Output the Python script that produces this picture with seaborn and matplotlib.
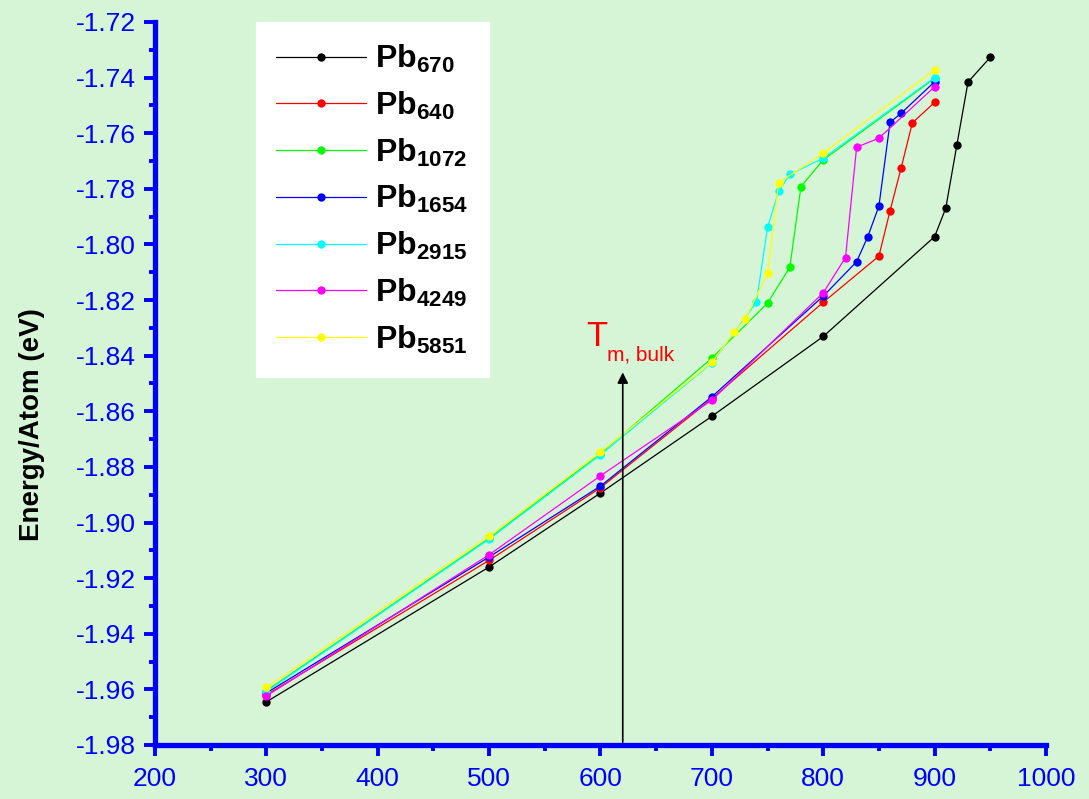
import numpy as np
import pandas as pd
import matplotlib
matplotlib.use("Agg")
import matplotlib.pyplot as plt
import seaborn as sns
from matplotlib.ticker import MultipleLocator, FormatStrFormatter

# datos: temperatura (K) y energia por atomo (eV)
clusters = ["670", "640", "1072", "1654", "2915", "4249", "5851"]
colores = ["#000000", "#ff0000", "#00ff00", "#0000ff", "#00ffff", "#ff00ff", "#ffff00"]

t_670 = [300, 500, 600, 700, 800, 900, 910, 920, 930, 950]
e_670 = [-1.9645, -1.9160, -1.8894, -1.8618, -1.8331, -1.7972, -1.7870, -1.7642, -1.7416, -1.7327]

t_640 = [300, 500, 600, 700, 800, 850, 860, 870, 880, 900]
e_640 = [-1.9620, -1.9136, -1.8875, -1.8555, -1.8208, -1.8042, -1.7879, -1.7724, -1.7563, -1.7489]

t_1072 = [300, 500, 600, 700, 750, 770, 780, 800, 900]
e_1072 = [-1.9605, -1.9057, -1.8752, -1.8409, -1.8211, -1.8082, -1.7792, -1.7696, -1.7403]

t_1654 = [300, 500, 600, 700, 800, 830, 840, 850, 860, 870, 900]
e_1654 = [-1.9613, -1.9124, -1.8869, -1.8548, -1.8186, -1.8062, -1.7972, -1.7862, -1.7561, -1.7528, -1.7415]

t_2915 = [300, 500, 600, 700, 740, 750, 760, 770, 800, 900]
e_2915 = [-1.9608, -1.9060, -1.8757, -1.8426, -1.8208, -1.7938, -1.7809, -1.7748, -1.7690, -1.7400]

t_4249 = [300, 500, 600, 700, 800, 820, 830, 850, 900]
e_4249 = [-1.9624, -1.9116, -1.8832, -1.8560, -1.8174, -1.8047, -1.7650, -1.7618, -1.7433]

t_5851 = [300, 500, 600, 700, 720, 730, 750, 760, 800, 900]
e_5851 = [-1.9593, -1.9049, -1.8748, -1.8424, -1.8316, -1.8268, -1.8104, -1.7778, -1.7672, -1.7373]

t_fusion = 620  # T de fusion bulk
y_flecha = [-1.98, -1.845]

series_t = [t_670, t_640, t_1072, t_1654, t_2915, t_4249, t_5851]
series_e = [e_670, e_640, e_1072, e_1654, e_2915, e_4249, e_5851]

filas = []
for nombre, ts, es in zip(clusters, series_t, series_e):
    for t, e in zip(ts, es):
        filas.append({"cluster": nombre, "T": t, "E": e})
df = pd.DataFrame(filas)

sns.set_style("ticks")
plt.rcParams["font.family"] = ["Liberation Sans", "DejaVu Sans"]
plt.rcParams["mathtext.fontset"] = "custom"
plt.rcParams["mathtext.rm"] = "Liberation Sans"
plt.rcParams["mathtext.bf"] = "Liberation Sans:bold"
plt.rcParams["axes.unicode_minus"] = False

fondo = "#d6f5d6"
azul = "#0000ff"

fig = plt.figure(figsize=(10.89, 7.99), dpi=100, facecolor=fondo)
ax = fig.add_axes([0.1423, 0.0676, 0.8182, 0.9049])
ax.set_facecolor(fondo)

sns.lineplot(data=df, x="T", y="E", hue="cluster", hue_order=clusters,
             palette=dict(zip(clusters, colores)), sort=False, estimator=None,
             marker="o", markersize=6, markeredgewidth=0, linewidth=0.9, ax=ax)

ax.set_xlim(200, 1000)
ax.set_ylim(-1.98, -1.72)
ax.xaxis.set_major_locator(MultipleLocator(100))
ax.xaxis.set_minor_locator(MultipleLocator(50))
ax.yaxis.set_major_locator(MultipleLocator(0.02))
ax.yaxis.set_minor_locator(MultipleLocator(0.01))
ax.yaxis.set_major_formatter(FormatStrFormatter("%.2f"))

for lado in ["top", "right"]:
    ax.spines[lado].set_visible(False)
for lado in ["left", "bottom"]:
    ax.spines[lado].set_color(azul)
    ax.spines[lado].set_linewidth(3.8)

ax.tick_params(which="major", direction="out", length=8, width=2.8, color=azul,
               labelcolor=azul, labelsize=19, pad=6)
ax.tick_params(which="minor", direction="out", length=4, width=2.8, color=azul)
ax.tick_params(axis="x", which="major", pad=8)

ax.set_xlabel("")
ax.set_ylabel("Energy/Atom (eV)", fontsize=20, fontweight="bold", color="black")
ax.yaxis.set_label_coords(-0.123, 0.443)

# flecha de la temperatura de fusion
ax.annotate("", xy=(t_fusion, y_flecha[1]), xytext=(t_fusion, y_flecha[0]),
            arrowprops=dict(arrowstyle="-|>", color="black", lw=1.2, mutation_scale=16),
            annotation_clip=False)
ax.text(587, -1.8366, "T", color="red", fontsize=25, ha="left", va="baseline")
ax.text(605.5, -1.8416, "m, bulk", color="red", fontsize=15, ha="left", va="baseline")

handles, labels = ax.get_legend_handles_labels()
etiquetas = [r"$\mathbf{Pb}_{\mathbf{%s}}$" % c for c in labels]
leg = ax.legend(handles, etiquetas, loc="upper left", bbox_to_anchor=(0.113, 1.0),
                borderaxespad=0, frameon=True, fancybox=False, framealpha=1,
                facecolor="white", edgecolor="white", fontsize=23, labelcolor="black",
                handlelength=2.8, handletextpad=0.3, labelspacing=0.45,
                borderpad=0.65)

plt.savefig("out.png", dpi=100, facecolor=fondo)
plt.close()
